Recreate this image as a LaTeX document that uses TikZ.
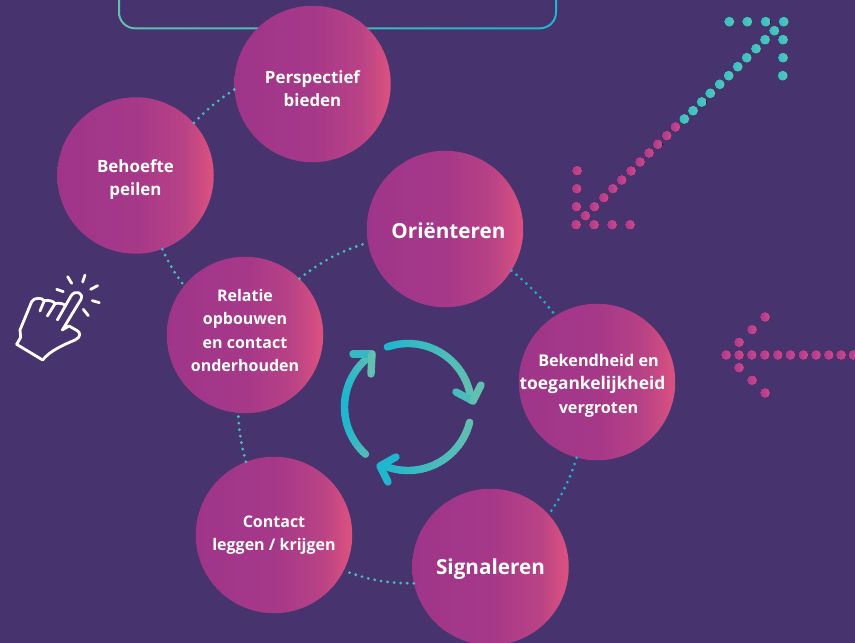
\documentclass[tikz,border=0pt]{standalone}
\usepackage{fontspec}
\setmainfont{Open Sans}[BoldFont=* Bold]
\definecolor{bgpurple}{HTML}{47336D}
\definecolor{circA}{HTML}{9F3589}
\definecolor{circB}{HTML}{A63889}
\definecolor{circC}{HTML}{B84285}
\definecolor{circD}{HTML}{DC5280}
\definecolor{tealdot}{HTML}{48BDBE}
\definecolor{cyandot}{HTML}{1FB3CF}
\definecolor{arrowA}{HTML}{1FB6CE}
\definecolor{arrowB}{HTML}{63BFB0}
\definecolor{dotTa}{HTML}{35BDC8}
\definecolor{dotTb}{HTML}{5CC5B8}
\definecolor{dotPa}{HTML}{A83A8E}
\definecolor{dotPb}{HTML}{D04A8A}
\pgfdeclarehorizontalshading{circgrad}{100bp}{color(0bp)=(circA);color(25bp)=(circA);color(50bp)=(circB);color(65bp)=(circC);color(75bp)=(circD);color(100bp)=(circD)}
\newcommand{\smallfont}[1]{\fontsize{#1}{23.3}\selectfont}
\tikzset{
  stage/.style={circle,minimum size=156.5pt,inner sep=0pt,shading=circgrad},
  stagetext/.style={text=white,align=center,inner sep=0pt,font=\bfseries\smallfont{16}},
  stagebig/.style={stagetext,font=\bfseries\smallfont{20.7}},
  link/.style={line width=3.1pt,line cap=round,dash pattern=on 0pt off 6.55pt,color=tealdot},
  linkc/.style={link,color=cyandot},
  tdot/.style={left color=dotTa,right color=dotTb,draw=none},
  pdot/.style={left color=dotPa,right color=dotPb,draw=none},
  handline/.style={white,line width=2.8pt,line cap=round,line join=round},
  cyc/.style={line width=7.4pt,line cap=round,line join=round}
}
\newcommand{\dotT}[1]{\foreach \p in {#1}{\fill[tdot] \p circle (5);}}
\newcommand{\dotP}[1]{\foreach \p in {#1}{\fill[pdot] \p circle (5);}}
% arc from angle #1 to #2 (maths degrees), colour running with x between #3 and #4
\newcommand{\gradarc}[4]{%
  \foreach \k in {0,...,29}{%
    \pgfmathsetmacro{\aa}{#1+(#2-#1)*\k/30}%
    \pgfmathsetmacro{\ab}{#1+(#2-#1)*(\k+1)/30}%
    \pgfmathsetmacro{\xa}{408+63.5*cos(\aa)}%
    \pgfmathsetmacro{\ya}{407-63.5*sin(\aa)}%
    \pgfmathsetmacro{\xb}{408+63.5*cos(\ab)}%
    \pgfmathsetmacro{\yb}{407-63.5*sin(\ab)}%
    \pgfmathtruncatemacro{\mixv}{max(0,min(100,100*(\xa-#3)/(#4-#3)))}%
    \draw[cyc,color=arrowB!\mixv!arrowA] (\xa,\ya) -- (\xb,\yb);%
  }}
\begin{document}
\begin{tikzpicture}[x=1pt,y=-1pt]
\useasboundingbox (0,0) rectangle (855,643);
\clip (0,0) rectangle (855,643);
\fill[bgpurple] (0,0) rectangle (855,643);
% top frame
\path[even odd rule,left color=arrowB,right color=arrowA]
  [rounded corners=17pt] (118,-30) rectangle (557,29.3)
  [rounded corners=15pt] (120,-30) rectangle (555,27.3);
% stages
\node[stage] (per) at (312.5,84) {};
\node[stage] (beh) at (135.5,175.5) {};
\node[stage] (ori) at (445,229) {};
\node[stage] (rel) at (245,335) {};
\node[stage] (bek) at (597,382) {};
\node[stage] (con) at (274,535) {};
\node[stage] (sig) at (490.5,567) {};
\node[stagetext,font=\bfseries\smallfont{16.9}] (pert) at ([yshift=-4.5pt]per.center) {Perspectief\\bieden};
\node[stagetext,font=\bfseries\smallfont{16.9}] (beht) at ([yshift=-4pt]beh.center) {Behoefte\\peilen};
\node[stagebig] (orit) at ([xshift=3.5pt,yshift=-2pt]ori.center) {Oriënteren};
\node[stagetext] (relt) at ([yshift=4.5pt]rel.center) {Relatie\\opbouwen\\en contact\\onderhouden};
\node[stagetext,font=\bfseries\smallfont{16.2}] (bekt) at ([xshift=1.5pt,yshift=-3.5pt]bek.center) {Bekendheid en\\{\smallfont{17.4}toegankelijkheid\kern12pt}\\vergroten};
\node[stagetext] (cont) at (con.center) {Contact\\leggen / krijgen};
\node[stagebig] (sigt) at ([yshift=-2pt]sig.center) {Signaleren};
% dotted connectors
\draw[link] (per.184) to[bend right=6] (beh.42);
\draw[link] (beh.290) to[bend right=6] (rel.141);
\draw[link] (rel.46) to[bend left=10] (ori.190);
\draw[linkc] (ori.-32) to[bend left=6] (bek.122);
\draw[linkc] (bek.255) to[bend left=8] (sig.42);
\draw[link] (sig.192) to[bend left=10] (con.-27);
\draw[link] (con.111) to[bend left=6] (rel.265);
% cycle arrows
\gradarc{109}{6}{387}{473}
\gradarc{-14}{-114}{380}{471}
\gradarc{228}{125}{345}{372}
\draw[cyc,color=arrowB!60!arrowA] (456,392) -- (473,401);
\draw[cyc,color=arrowB] (481,385) -- (473,401);
\draw[cyc,color=arrowA] (396,457) -- (380,466) -- (388,482);
\draw[cyc,color=arrowB!35!arrowA] (353,354) -- (372,354);
\draw[cyc,color=arrowB] (372,354) -- (371,374);
% dotted arrow, diagonal
\dotT{(729.3,21.7),(747.3,21.7),(765.7,21.7),(783.7,21.7),(774.3,30.7),(765,39.7),(783,39.7),(783,57.7),(782.7,75.7),(756,48.7),(746.7,57.7),(737.7,66.7),(728.7,75.7),(719.7,84.3),(710.3,93.3),(701.7,102),(693,110.7),(684.3,119)}
\dotP{(675.3,127),(666.7,135.7),(657.7,144.3),(649,153),(640,162),(631,171),(621.7,180),(612.7,188.7),(603.7,197.7),(594.3,206.7),(585.3,215.7),(576.3,206.7),(576,224.7),(594,224.7),(612,224.7),(630,224.7),(576.7,188.7),(577,170.7)}
% dotted arrow, left
\dotP{(726,355),(739,355),(751.7,355),(764.7,355),(777.7,355),(790.3,355),(803.3,355),(816,355),(828.7,355),(841,355),(853.3,355),(765,317),(752,329.7),(739,342.3),(739,367.7),(752,380.3),(765,393)}
% hand
\begin{scope}[shift={(0,250)},x=0.3333pt,y=-0.3333pt]
\draw[handline]
  (50,283) -- (128,330) .. controls (145,310) and (165,295) .. (225,270)
  .. controls (243,262) and (243,247) .. (230,241) -- (207,228) -- (187,240)
  -- (243,148) .. controls (252,128) and (225,118) .. (213,138)
  -- (172,210);
\draw[handline]
  (50,283) -- (62,262) -- (60,240) -- (95,155)
  .. controls (102,142) and (125,142) .. (133,152)
  .. controls (145,150) and (160,152) .. (165,161)
  .. controls (178,158) and (190,160) .. (197,168);
\draw[handline] (133,152) -- (120,183);
\draw[handline] (165,161) -- (142,198);
\draw[handline] (203,80) -- (215,100);
\draw[handline] (255,75) -- (248,96);
\draw[handline] (293,107) -- (272,118);
\draw[handline] (298,158) -- (277,152);
\draw[handline] (250,178) -- (265,197);
\draw[handline] (190,125) -- (170,118);
\end{scope}
\end{tikzpicture}
\end{document}
